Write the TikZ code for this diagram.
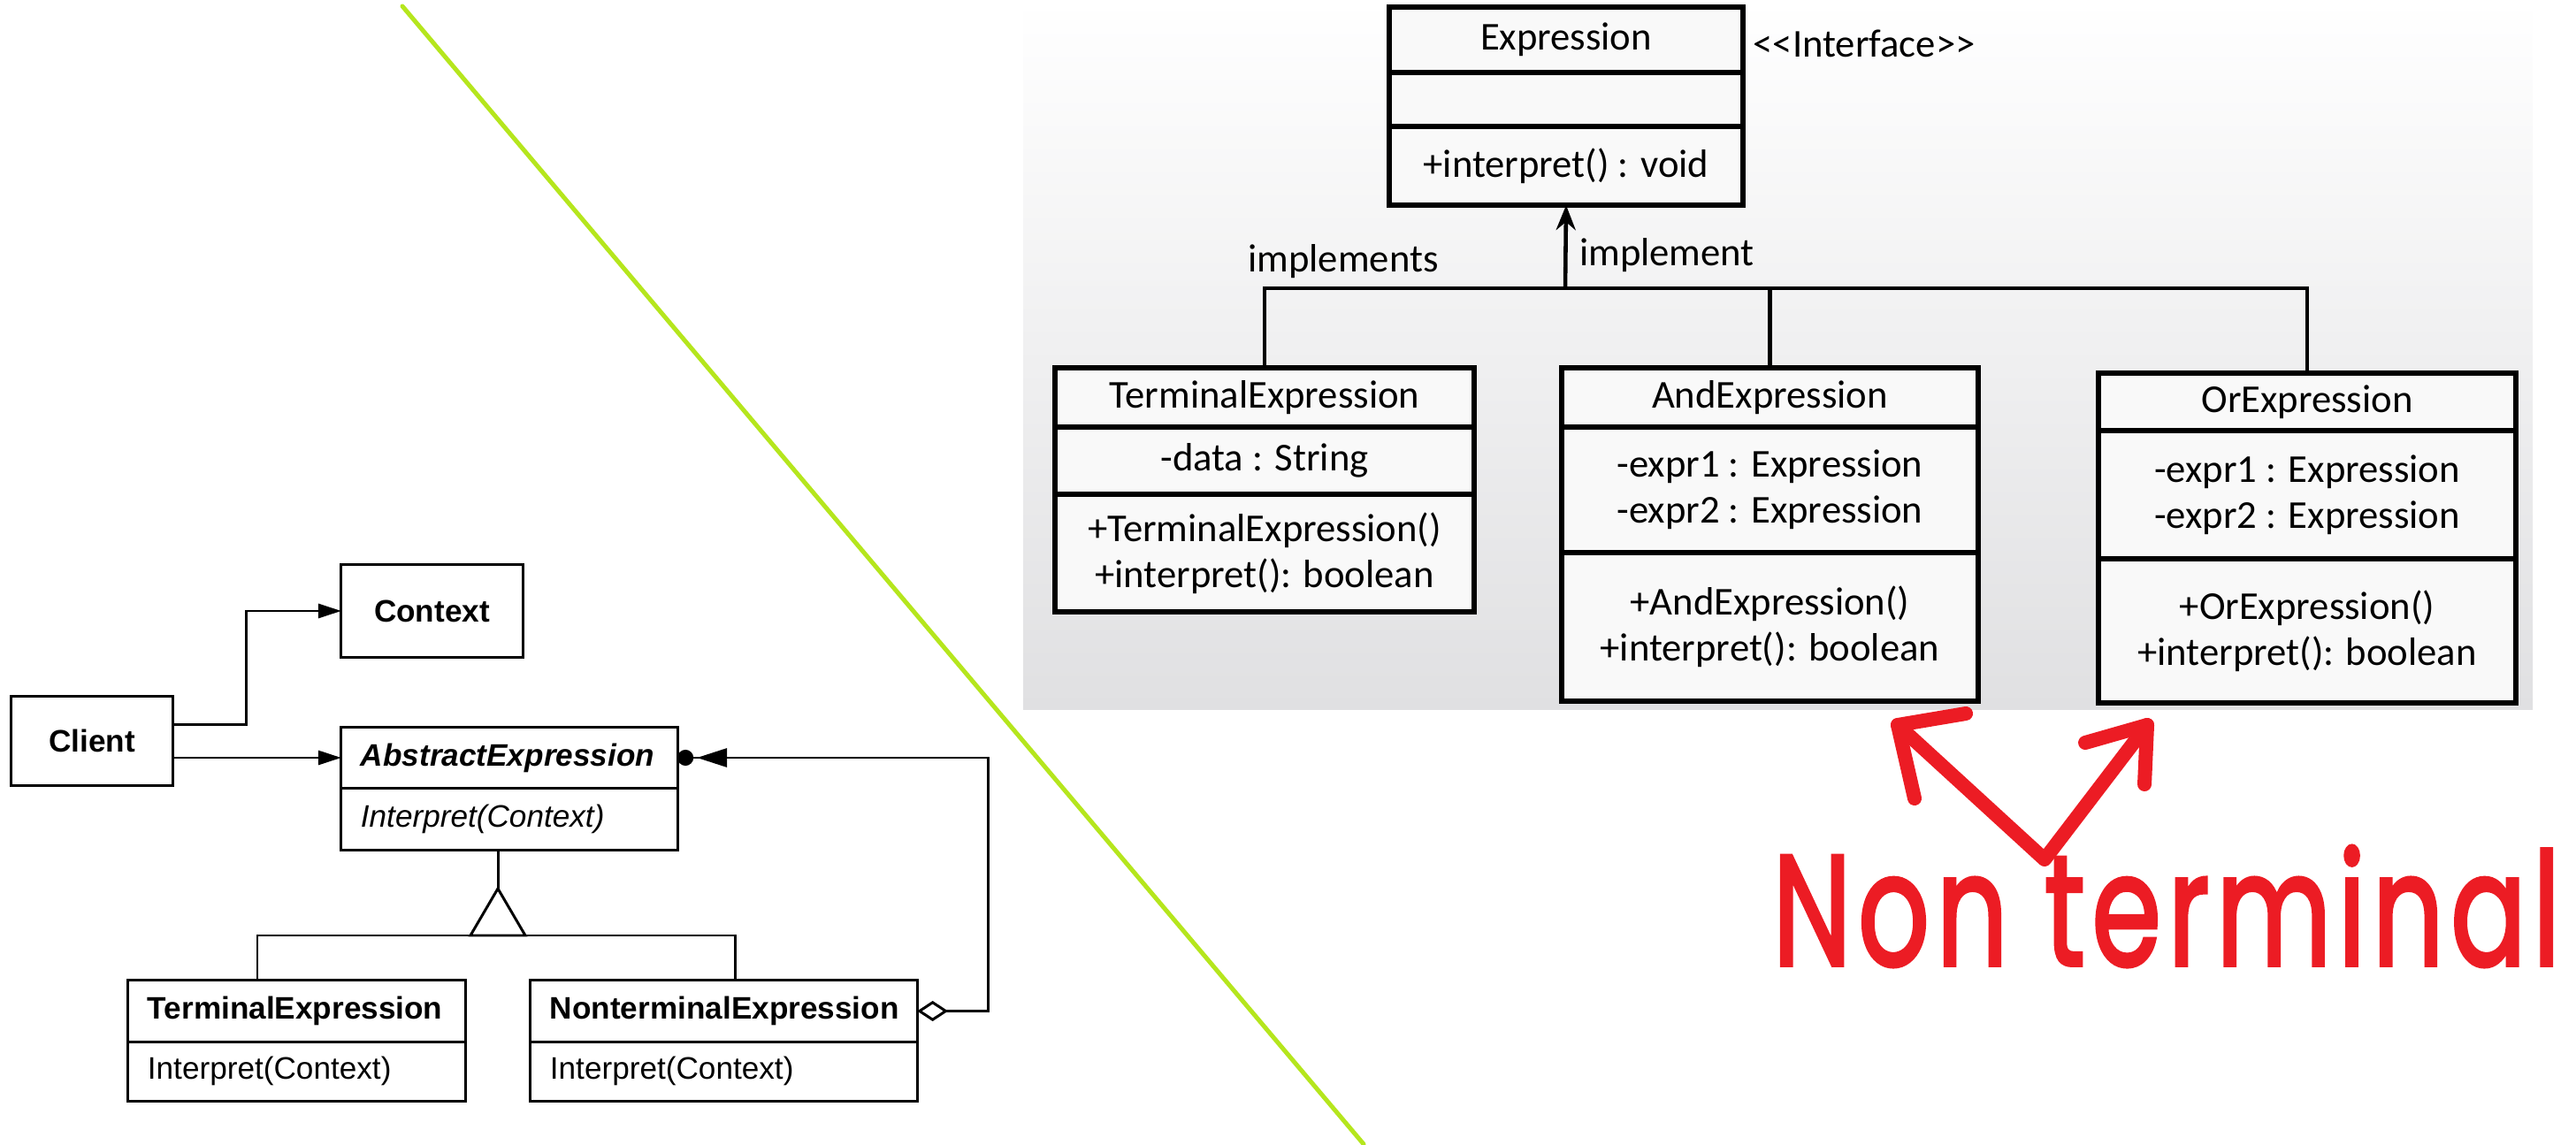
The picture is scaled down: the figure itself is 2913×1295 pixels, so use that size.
\documentclass[tikz,border=0pt]{standalone}
\usepackage{fontspec}
\usepackage{graphicx}
\usetikzlibrary{arrows.meta,positioning}
\newfontfamily\gofont{Liberation Sans}
\newfontfamily\umlfont{Carlito}
\newfontfamily\handfont[LetterSpace=6, FakeBold=2.5]{Poppins}
\definecolor{limeline}{RGB}{181,230,29}
\definecolor{panelgray}{RGB}{224,224,226}
\definecolor{markred}{RGB}{236,28,36}

\begin{document}
\begin{tikzpicture}[
  x=0.01cm, y=-0.01cm,
  gof/.style={draw, line width=0.85pt, outer sep=0pt, inner xsep=2.2mm, font=\gofont\fontsize{10}{12}\selectfont},
  goflist/.style={gof, align=left, text width=#1},
  gofline/.style={line width=0.85pt},
  assoc/.style={gofline, -{Triangle[length=2.6mm, width=1.6mm]}},
  aggr/.style={gofline, {Diamond[open, fill=white, length=3.5mm, width=2.3mm]}-{Triangle[length=3.4mm, width=2.1mm, sep=0.4mm] Circle[length=1.8mm]}},
  uml/.style={draw, line width=1.7pt, outer sep=0pt, fill=gray!5, align=center, minimum width=#1, font=\umlfont\fontsize{12.7}{14.8}\selectfont},
  umltext/.style={font=\umlfont\fontsize{12.7}{14.8}\selectfont, inner sep=0pt},
  umlline/.style={line width=1.3pt},
  impl/.style={umlline, -{Stealth[length=2.8mm, width=2.2mm]}},
  redmark/.style={draw=markred, line width=1.6mm, line cap=round, line join=round},
]
\useasboundingbox (0,0) rectangle (2913,1295);

%% ---- backdrop: screenshot panel and divider ----
\shade[top color=white, bottom color=panelgray] (1157,0) rectangle (2864,802);
\draw[limeline, line width=0.5mm, line cap=round] (455,7) -- (1542,1294);

%% ---- GoF structure (left) ----
\node[gof, minimum width=1.82cm, minimum height=1cm] (client) at (104,838) {\bfseries Client};
\node[gof, minimum width=2.05cm, minimum height=1.04cm] (context) at (488.5,691) {\bfseries Context};

\node[goflist=3.36cm, minimum height=0.68cm] (abs) at (576,857) {\bfseries\itshape AbstractExpression};
\node[goflist=3.36cm, minimum height=0.70cm, below=0pt of abs] (absop) {\itshape Interpret(Context)};

\node[goflist=3.37cm, minimum height=0.69cm] (gofterm) at (335.5,1143.5) {\bfseries TerminalExpression};
\node[goflist=3.37cm, minimum height=0.67cm, below=0pt of gofterm] (goftermop) {Interpret(Context)};

\node[goflist=3.93cm, minimum height=0.69cm] (gofnonterm) at (818.5,1143.5) {\bfseries NonterminalExpression};
\node[goflist=3.93cm, minimum height=0.67cm, below=0pt of gofnonterm] (gofnontermop) {Interpret(Context)};

\draw[assoc] ([yshift=1.8mm]client.east) -- ++(83,0) |- (context.west);
\draw[assoc] (client.east |- abs.west) -- (abs.west);

\coordinate (genTip) at (563,1005);
\coordinate (genL) at (291,1058);
\coordinate (genR) at (831,1058);
\draw[gofline] (absop.south -| genTip) -- (genTip);
\draw[gofline] (genTip) -- ++(-31,53) -- ++(62,0) -- cycle;
\draw[gofline] (gofterm.north -| genL) |- (genR) -- (gofnonterm.north -| genR);

\coordinate (aggBend) at (1117,857);
\draw[aggr] (gofnonterm.east) -| (aggBend) -- (abs.east);

%% ---- UML class diagram (right) ----
\node[uml=4cm, minimum height=0.74cm] (exp) at (1771,45) {Expression};
\node[uml=4cm, minimum height=0.61cm, below=0pt of exp] (expattr) {};
\node[uml=4cm, minimum height=0.89cm, below=0pt of expattr] (expop) {+interpret() : void};
\node[umltext, anchor=west] (stereo) at (1982,49) {<\kern0pt<Interface>\kern0pt>};

\node[uml=4.74cm, minimum height=0.67cm] (termexp) at (1430,449.5) {TerminalExpression};
\node[uml=4.74cm, minimum height=0.76cm, below=0pt of termexp] (termattr) {-data : String};
\node[uml=4.74cm, minimum height=1.33cm, below=0pt of termattr] (termop) {+TerminalExpression()\\+interpret(): boolean};

\node[uml=4.71cm, minimum height=0.67cm] (andexp) at (2001.5,449.5) {AndExpression};
\node[uml=4.71cm, minimum height=1.42cm, below=0pt of andexp] (andattr) {-expr1 : Expression\\-expr2 : Expression};
\node[uml=4.71cm, minimum height=1.68cm, below=0pt of andattr] (andop) {+AndExpression()\\+interpret(): boolean};

\node[uml=4.72cm, minimum height=0.65cm] (orexp) at (2609,454.5) {OrExpression};
\node[uml=4.72cm, minimum height=1.45cm, below=0pt of orexp] (orattr) {-expr1 : Expression\\-expr2 : Expression};
\node[uml=4.72cm, minimum height=1.63cm, below=0pt of orattr] (orop) {+OrExpression()\\+interpret(): boolean};

\coordinate (bus) at (1770,326);
\draw[umlline] (termexp.north) |- (bus) -| (orexp.north);
\draw[umlline] (andexp.north) -- (andexp.north |- bus);
\draw[impl] (bus) -- (expop.south);

\node[umltext] (implsLabel) at (1519,296) {implements};
\node[umltext] (implLabel) at (1885,289) {implement};

%% ---- red annotation ----
\coordinate (vTip) at (2312,972);
\coordinate (andTip) at (2146,820);
\coordinate (orTip) at (2428,820);
\path[redmark] (andTip) -- (vTip) -- (orTip);
\path[redmark] (2223,807) -- (andTip) -- (2165,903);
\path[redmark] (2358,840) -- (orTip) -- (2425,887);
\node[text=markred, inner sep=0pt] (ntLabel) at (2450,1025)
  {\resizebox{8.9cm}{1.35cm}{\handfont Non terminal}};

\end{tikzpicture}
\end{document}
